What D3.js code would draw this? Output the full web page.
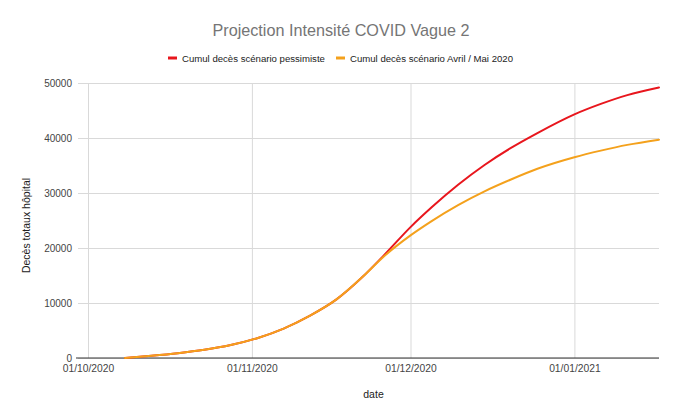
<!DOCTYPE html>
<html>
<head>
<meta charset="utf-8">
<script src="https://cdn.jsdelivr.net/npm/d3@7"></script>
<style>
  body { margin: 0; background: #fff; }
  text { font-family: Arial, "Liberation Sans", sans-serif; }
</style>
</head>
<body>
<div id="chart"></div>
<script>
// values
const dates = ["2020-10-08", "2020-10-13", "2020-10-18", "2020-10-23", "2020-10-28",
  "2020-11-02", "2020-11-07", "2020-11-12", "2020-11-17", "2020-11-22", "2020-11-26",
  "2020-12-01", "2020-12-05", "2020-12-10", "2020-12-15", "2020-12-20", "2020-12-25",
  "2021-01-01", "2021-01-06", "2021-01-11", "2021-01-17"]
const pessimiste = [0, 390, 860, 1480, 2350, 3600, 5350, 7700, 10650, 14800, 18700,
  23800, 27400, 31500, 35100, 38200, 40900, 44300, 46200, 47800, 49200]
const avrilMai = [0, 390, 860, 1480, 2350, 3600, 5350, 7700, 10650, 14800, 18500,
  22300, 24900, 27800, 30300, 32450, 34400, 36500, 37700, 38750, 39700]
const seriesNames = ["Cumul decès scénario pessimiste", "Cumul decès scénario Avril / Mai 2020"]
const xTicks = ["2020-10-01", "2020-11-01", "2020-12-01", "2021-01-01"]
const xDomain = ["2020-10-01", "2021-01-17"]
const yTicks = [0, 10000, 20000, 30000, 40000, 50000]

const width = 680
const height = 420
const margin = ({ top: 83, right: 21, bottom: 62, left: 88 })
const colors = ["#e8161d", "#f4a11c"]

const parse = d3.utcParse("%Y-%m-%d")
const fmt = d3.utcFormat("%d/%m/%Y")

const x = d3.scaleUtc()
  .domain(xDomain.map(parse))
  .range([margin.left, width - margin.right])

const y = d3.scaleLinear()
  .domain([0, 50000])
  .range([height - margin.bottom, margin.top])

const svg = d3.select("#chart").append("svg")
  .attr("width", width)
  .attr("height", height)

// title
svg.append("text")
  .attr("x", 341).attr("y", 36)
  .attr("text-anchor", "middle")
  .attr("font-size", 16.2)
  .attr("fill", "#757575")
  .text("Projection Intensité COVID Vague 2")

// legend
const legendX = [168, 336]
seriesNames.forEach((name, i) => {
  const g = svg.append("g").attr("transform", `translate(${legendX[i]},58)`)
  g.append("line")
    .attr("x1", 0).attr("x2", 9)
    .attr("stroke", colors[i]).attr("stroke-width", 3)
  g.append("text")
    .attr("x", 14).attr("y", 3.5)
    .attr("font-size", 9.6)
    .attr("fill", "#222")
    .text(name)
})

// y grid + labels
const yAxis = g => g
  .attr("transform", `translate(${margin.left},0)`)
  .call(d3.axisLeft(y).tickValues(yTicks).tickFormat(d3.format("d"))
    .tickSize(-(width - margin.left - margin.right)).tickPadding(6))
  .call(g => g.select(".domain").remove())
  .call(g => g.selectAll(".tick line").attr("stroke", "#d9d9d9").attr("x1", -10))
  .call(g => g.selectAll(".tick text").attr("font-size", 10).attr("fill", "#444")
    .attr("x", -16).attr("font-family", "Arial, 'Liberation Sans', sans-serif"))

svg.append("g").call(yAxis)

// x grid + labels
const xAxis = g => g
  .attr("transform", `translate(0,${height - margin.bottom})`)
  .call(d3.axisBottom(x).tickValues(xTicks.map(parse)).tickFormat(fmt)
    .tickSize(-(height - margin.top - margin.bottom)).tickPadding(6))
  .call(g => g.select(".domain").remove())
  .call(g => g.selectAll(".tick line").attr("stroke", "#d9d9d9"))
  .call(g => g.selectAll(".tick text").attr("font-size", 10.3).attr("fill", "#444")
    .attr("y", 7).attr("font-family", "Arial, 'Liberation Sans', sans-serif"))

svg.append("g").call(xAxis)

// baseline
svg.append("line")
  .attr("x1", margin.left - 12).attr("x2", width - margin.right)
  .attr("y1", y(0)).attr("y2", y(0))
  .attr("stroke", "#333").attr("stroke-width", 1)

// axis titles
svg.append("text")
  .attr("x", (margin.left + width - margin.right) / 2).attr("y", 398)
  .attr("text-anchor", "middle")
  .attr("font-size", 10.5).attr("fill", "#222")
  .text("date")

svg.append("text")
  .attr("transform", `translate(30,${(margin.top + height - margin.bottom) / 2 + 5}) rotate(-90)`)
  .attr("text-anchor", "middle")
  .attr("font-size", 10.5).attr("fill", "#222")
  .text("Decès totaux hôpital")

// lines
const line = d3.line()
  .x(d => x(d.date))
  .y(d => y(d.value))
  .curve(d3.curveMonotoneX)

const series = [pessimiste, avrilMai].map(vals =>
  dates.map((d, i) => ({ date: parse(d), value: vals[i] })))

series.forEach((data, i) => {
  svg.append("path")
    .datum(data)
    .attr("fill", "none")
    .attr("stroke", colors[i])
    .attr("stroke-width", 2)
    .attr("stroke-linejoin", "round")
    .attr("stroke-linecap", "round")
    .attr("d", line)
})
</script>
</body>
</html>
